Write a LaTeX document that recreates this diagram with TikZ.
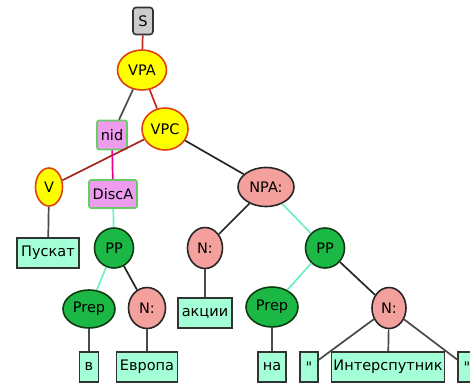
\documentclass[tikz,border=0pt]{standalone}
\usepackage{fontspec}
\setmainfont{DejaVu Sans}[Ligatures=TeXOff]
\usetikzlibrary{shapes.geometric}
\definecolor{yelfill}{HTML}{FFFF00}
\definecolor{yelline}{HTML}{E0400F}
\definecolor{pinkfill}{HTML}{F4A09C}
\definecolor{grnfill}{HTML}{1CB845}
\definecolor{grnline}{HTML}{0E3A12}
\definecolor{leaffill}{HTML}{A2FFD6}
\definecolor{tagfill}{HTML}{EE9CEE}
\definecolor{tagline}{HTML}{66CC66}
\definecolor{redline}{HTML}{C02A1E}
\definecolor{aqualine}{HTML}{70EEC0}
\definecolor{greyline}{HTML}{4A4A4A}
\tikzset{
  every node/.style={font=\fontsize{14.5}{16}\selectfont,inner sep=0pt,line width=1.6pt},
  yel/.style={ellipse,draw=yelline,fill=yelfill},
  pinkn/.style={ellipse,draw=black!85,fill=pinkfill},
  grn/.style={ellipse,draw=grnline,fill=grnfill},
  leaf/.style={rectangle,draw=black!80,fill=leaffill,minimum height=30pt},
  tag/.style={rectangle,rounded corners=2pt,draw=tagline,fill=tagfill},
  root/.style={rectangle,rounded corners=3pt,draw=black!80,fill=black!20},
}
\begin{document}
\begin{tikzpicture}[x=1pt,y=-1pt,line width=1.7pt]
        \useasboundingbox(0,0)rectangle(470,387);
        \node[root,minimum width=20,minimum height=27](S)at(143,21){S};
        \node[yel,minimum width=49,minimum height=40](VPA)at(142,70){VPA};
        \node[tag,minimum width=30,minimum height=29](nid)at(112,135){nid};
        \node[yel,minimum width=46,minimum height=42](VPC)at(165,129){VPC};
        \node[yel,minimum width=27,minimum height=38](V)at(49,187){V};
        \node[tag,minimum width=48,minimum height=28](DiscA)at(113,194){DiscA};
        \node[leaf,minimum width=62](Puskat)at(48,253){Пускат};
        \node[grn,minimum width=39,minimum height=40](PP1)at(114,248){PP};
        \node[grn,minimum width=52,minimum height=38](Prep1)at(89,309){Prep};
        \node[pinkn,minimum width=37,minimum height=41](N1)at(147,308){N:};
        \node[leaf,minimum width=19](v)at(89,367){в};
        \node[leaf,minimum width=61](Evropa)at(147,367){Европа};
        \node[pinkn,minimum width=56,minimum height=39](NPA)at(266,187){NPA:};
        \node[pinkn,minimum width=35,minimum height=41](N2)at(205,248){N:};
        \node[leaf,minimum width=54](akcii)at(205,313){акции};
        \node[grn,minimum width=39,minimum height=40](PP2)at(325,248){PP};
        \node[grn,minimum width=52,minimum height=40](Prep2)at(272,307){Prep};
        \node[pinkn,minimum width=34,minimum height=41](N3)at(389,308){N:};
        \node[leaf,minimum width=28](na)at(272,367){на};
        \node[leaf,minimum width=18](q1)at(309,367){"};
        \node[leaf,minimum width=113](Intersputnik)at(388,367){Интерспутник};
        \node[leaf,minimum width=18](q2)at(467,367){"};
        \draw[redline](S)--(VPA);
        \draw[redline](VPA)--(VPC);
        \draw[greyline](VPA)--(nid);
        \draw[redline!85!black](VPC)--(V);
        \draw[magenta](nid)--(DiscA);
        \draw[black!85](VPC)--(NPA);
        \draw[greyline](V)--(Puskat);
        \draw[aqualine](DiscA)--(PP1);
        \draw[aqualine](PP1)--(Prep1);
        \draw[black!85](PP1)--(N1);
        \draw[greyline](Prep1)--(v);
        \draw[greyline](N1)--(Evropa);
        \draw[black!85](NPA)--(N2);
        \draw[aqualine](NPA)--(PP2);
        \draw[greyline](N2)--(akcii);
        \draw[aqualine](PP2)--(Prep2);
        \draw[black!85](PP2)--(N3);
        \draw[greyline](Prep2)--(na);
        \draw[greyline](N3)--(q1);
        \draw[greyline](N3)--(Intersputnik);
        \draw[greyline](N3)--(q2);
    \end{tikzpicture}
\end{document}
